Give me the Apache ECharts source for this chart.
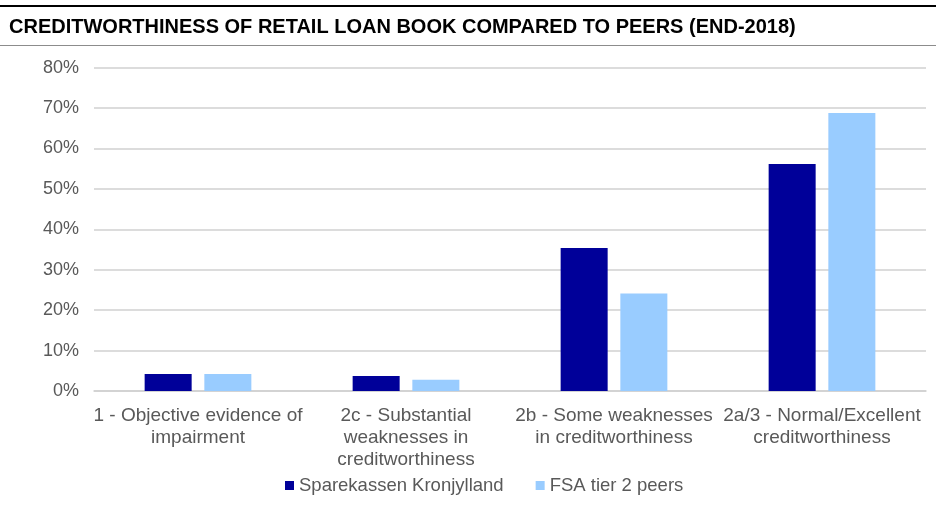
<!DOCTYPE html>
<html>
<head>
<meta charset="utf-8">
<script src="https://cdn.jsdelivr.net/npm/echarts@6/dist/echarts.min.js"></script>
<style>
  html, body { margin: 0; padding: 0; background: #ffffff; }
  #chart { width: 936px; height: 511px; }
</style>
</head>
<body>
<div id="chart"></div>
<script>
// Retail loan book creditworthiness classes, end-2018 (share of loans)
const categories = [
  '1 - Objective evidence of\nimpairment',
  '2c - Substantial\nweaknesses in\ncreditworthiness',
  '2b - Some weaknesses\nin creditworthiness',
  '2a/3 - Normal/Excellent\ncreditworthiness'
];
const seriesNames = ['Sparekassen Kronjylland', 'FSA tier 2 peers'];
const kronjylland = [4.2, 3.7, 35.4, 56.2];
const fsaPeers = [4.2, 2.8, 24.1, 68.8];
const yTicks = [0, 10, 20, 30, 40, 50, 60, 70, 80];

const FONT = '"Liberation Sans", Arial, sans-serif';
const GREY_TEXT = '#595959';

const chart = echarts.init(document.getElementById('chart'), null, { renderer: 'canvas' });

chart.setOption({
  animation: false,
  backgroundColor: '#ffffff',
  title: {
    text: 'CREDITWORTHINESS OF RETAIL LOAN BOOK COMPARED TO PEERS (END-2018)',
    left: 4,
    top: 12,
    textStyle: { fontFamily: FONT, fontSize: 20, fontWeight: 'bold', color: '#000000' }
  },
  graphic: [
    { type: 'rect', shape: { x: 0, y: 5, width: 936, height: 2 }, style: { fill: '#000000' } },
    { type: 'rect', shape: { x: 0, y: 45, width: 936, height: 1 }, style: { fill: '#8c8c8c' } }
  ],
  legend: {
    data: seriesNames,
    bottom: 11,
    left: 280,
    icon: 'rect',
    itemWidth: 9,
    itemHeight: 9,
    itemGap: 32,
    textStyle: { fontFamily: FONT, fontSize: 18.5, color: GREY_TEXT }
  },
  grid: { left: 94, right: 10, top: 67.7, bottom: 120, containLabel: false },
  xAxis: {
    type: 'category',
    data: categories,
    axisLine: { show: true, lineStyle: { color: '#d0d0d0', width: 1.5 } },
    axisTick: { show: false },
    axisLabel: {
      interval: 0,
      margin: 14,
      fontFamily: FONT,
      fontSize: 19,
      lineHeight: 22,
      color: GREY_TEXT,
      align: 'center'
    }
  },
  yAxis: {
    type: 'value',
    min: yTicks[0],
    max: yTicks[yTicks.length - 1],
    interval: 10,
    axisLine: { show: false },
    axisTick: { show: false },
    splitLine: { lineStyle: { color: '#d0d0d0', width: 1.5 } },
    axisLabel: {
      margin: 15,
      fontFamily: FONT,
      fontSize: 18,
      color: GREY_TEXT,
      formatter: v => v + '%'
    }
  },
  series: [
    {
      name: seriesNames[0],
      type: 'bar',
      data: kronjylland,
      barWidth: '22.6%',
      barGap: '27%',
      itemStyle: { color: '#000099' }
    },
    {
      name: seriesNames[1],
      type: 'bar',
      data: fsaPeers,
      barWidth: '22.6%',
      itemStyle: { color: '#99ccff' }
    }
  ]
});
</script>
</body>
</html>
